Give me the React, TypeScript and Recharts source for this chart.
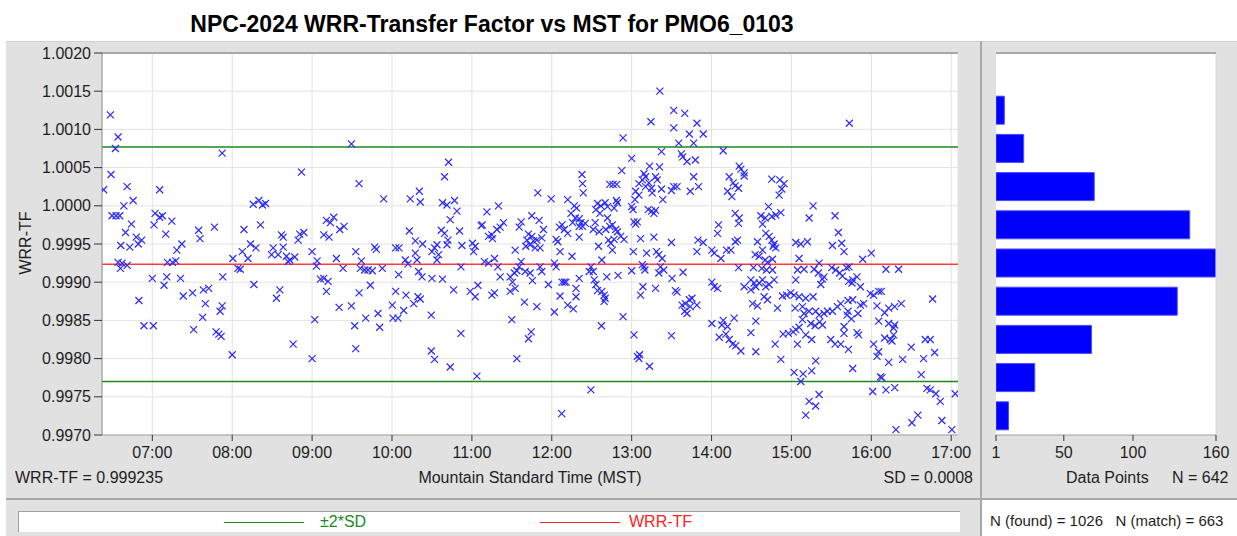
import {
  ScatterChart,
  Scatter,
  XAxis,
  YAxis,
  CartesianGrid,
  ReferenceLine,
  BarChart,
  Bar,
} from "recharts";

const FONT = "'Liberation Sans', Arial, sans-serif";
const TITLE = "NPC-2024 WRR-Transfer Factor vs MST for PMO6_0103";

// summary lines
const MEAN_TF = 0.999235;
const UPPER_2SD = 1.000769;
const LOWER_2SD = 0.997701;

const HOUR_TICKS = [7, 8, 9, 10, 11, 12, 13, 14, 15, 16, 17];
const TF_TICKS = [0.997, 0.9975, 0.998, 0.9985, 0.999, 0.9995, 1.0, 1.0005, 1.001, 1.0015, 1.002];

// histogram (bins of 0.0005, top bin empty)
const HIST_BINS = ["1.00175", "1.00125", "1.00075", "1.00025", "0.99975", "0.99925", "0.99875", "0.99825", "0.99775", "0.99725"];
const HIST_COUNTS = [null, 7, 21, 72, 141, 160, 132, 70, 29, 10];
const HIST_TICKS = [1, 50, 100, 160];

// [decimal hour MST, WRR-TF]
const early: number[][] = [
  [6.475,1.00119],[6.571,1.0009],[6.538,1.00075],[7.874,1.00069],[6.483,1.00041],[6.391,1.00021],[6.685,1.00025],[7.092,1.00021],[6.76,1.00007],[6.643,1.0],[6.496,0.99987],[6.546,0.99987],[6.592,0.99987],[7.034,0.9999],[7.092,0.99985],[7.021,0.99975],[7.126,0.99987],[7.244,0.9998],[6.739,0.99976],[7.777,0.99972],[6.664,0.99965],[7.58,0.99968],[7.597,0.99957],[8.147,0.99969],[7.168,0.99963],[6.798,0.99959],[6.866,0.99955],[6.824,0.9995],[6.605,0.99948],[6.718,0.99946],[7.37,0.9995],[7.307,0.99942],[8.126,0.9994],[8.197,0.99931],[6.571,0.99926],[6.622,0.99925],[6.685,0.99922],[6.601,0.99918],[7.189,0.99926],[7.252,0.99926],[7.294,0.99928],[8.008,0.99931],[8.071,0.99918],[8.101,0.99917],[7.0,0.99905],[7.181,0.99907],[7.353,0.99905],[7.882,0.99907],[7.147,0.99896],[7.706,0.99892],[7.639,0.9989],[7.504,0.99886],[7.387,0.99882],[6.832,0.99876],[7.664,0.99872],[7.874,0.99869],[7.849,0.99862],[7.63,0.99854],[6.895,0.99843],[7.013,0.99843],[7.517,0.99838],[7.798,0.99835],[7.832,0.99832],[7.861,0.99829],[8.0,0.99805],
];

const morning: number[][] = [
  [9.492,1.00081],[8.867,1.00044],[9.588,1.00029],[9.896,1.00009],[8.263,1.00002],[8.333,1.00007],[8.379,1.00001],[8.417,1.00003],[8.354,0.99975],[9.179,0.99981],[9.271,0.99985],[9.229,0.99978],[9.346,0.99969],[9.4,0.99973],[9.146,0.99962],[9.213,0.99959],[8.617,0.99962],[8.638,0.99959],[8.846,0.99963],[8.896,0.99965],[8.825,0.99955],[8.229,0.9995],[8.296,0.99945],[8.513,0.99945],[8.492,0.99936],[8.575,0.99936],[8.638,0.99946],[8.679,0.99934],[8.721,0.99929],[8.7,0.99927],[8.783,0.99933],[9.0,0.9994],[9.063,0.99928],[9.054,0.99921],[9.304,0.99931],[9.388,0.99918],[9.546,0.9994],[9.617,0.99928],[9.604,0.99918],[9.658,0.99916],[9.7,0.99916],[9.754,0.99915],[9.783,0.99946],[9.804,0.99943],[9.879,0.99918],[10.046,0.99945],[10.088,0.99945],[9.104,0.99904],[9.146,0.99905],[9.2,0.99901],[8.271,0.99897],[8.596,0.9989],[8.554,0.99879],[9.179,0.99888],[9.588,0.99886],[9.729,0.99896],[10.046,0.99888],[10.004,0.9987],[10.013,0.99853],[10.075,0.99853],[9.338,0.99867],[9.492,0.99869],[9.671,0.99853],[9.825,0.99859],[9.033,0.99851],[9.533,0.99843],[9.846,0.99841],[8.763,0.99819],[9.546,0.99813],[9.0,0.998],
];

const lateMorning: number[][] = [
  [10.708,1.00057],[10.658,1.00038],[10.342,1.00019],[10.229,1.00009],[10.354,1.00005],[11.825,1.00017],[10.633,1.00004],[10.688,1.00001],[10.783,1.00007],[10.813,0.99993],[10.729,0.99982],[11.333,1.0],[11.188,0.99992],[11.75,0.99987],[11.842,0.99981],[11.617,0.99979],[11.592,0.99972],[11.896,0.99969],[11.117,0.99974],[11.13,0.99975],[11.396,0.99978],[11.354,0.99972],[11.313,0.99969],[10.217,0.99967],[10.617,0.99968],[10.658,0.99964],[10.846,0.99967],[11.208,0.9996],[11.258,0.99957],[11.25,0.99962],[11.708,0.99963],[11.75,0.9996],[11.688,0.99955],[11.771,0.99954],[11.813,0.99955],[11.875,0.99958],[11.675,0.99947],[11.729,0.99949],[11.792,0.99945],[11.854,0.99945],[10.292,0.99954],[10.383,0.9995],[10.7,0.99955],[10.688,0.99949],[10.563,0.99949],[10.533,0.99945],[10.5,0.9994],[10.583,0.99936],[10.563,0.99929],[10.875,0.99948],[11.008,0.99951],[11.042,0.99947],[11.021,0.9994],[11.542,0.99942],[10.292,0.99938],[10.313,0.99929],[10.167,0.99929],[10.2,0.99924],[11.158,0.99927],[11.208,0.99925],[11.283,0.99931],[11.325,0.9992],[11.617,0.99927],[11.592,0.9992],[11.563,0.99915],[11.667,0.99914],[11.533,0.99912],[11.729,0.99912],[11.758,0.99902],[11.854,0.9992],[11.875,0.99914],[11.958,0.99897],[10.083,0.9991],[10.333,0.99914],[10.375,0.99907],[10.5,0.99905],[10.863,0.9992],[10.633,0.99904],[11.354,0.99907],[11.479,0.99907],[11.508,0.999],[11.479,0.99888],[11.542,0.99892],[10.771,0.9989],[11.075,0.99896],[10.979,0.99888],[11.042,0.99881],[11.25,0.99883],[11.283,0.99886],[10.175,0.99883],[10.271,0.99872],[10.325,0.99881],[10.354,0.99878],[11.658,0.99874],[11.813,0.99868],[10.146,0.99863],[10.492,0.99857],[11.5,0.99851],[10.863,0.99833],[11.742,0.99835],[11.708,0.99826],[10.492,0.9981],[10.533,0.99799],[11.563,0.998],[10.729,0.99789],[11.063,0.99777],
];

const midday: number[][] = [
  [13.353,1.0015],[13.527,1.00125],[13.664,1.00121],[13.241,1.0011],[13.527,1.00102],[13.722,1.00094],[13.817,1.00108],[12.892,1.00089],[13.589,1.00082],[13.776,1.00082],[13.373,1.00071],[13.0,1.00062],[13.622,1.00068],[13.639,1.00064],[13.693,1.00058],[13.797,1.0006],[12.876,1.00046],[13.224,1.00052],[13.154,1.00042],[13.349,1.00051],[13.174,1.00038],[13.299,1.00038],[12.378,1.00041],[12.386,1.00029],[12.394,1.00017],[13.091,1.00029],[13.133,1.00034],[13.216,1.0003],[13.249,1.00023],[13.32,1.00034],[13.174,1.00025],[13.05,1.00019],[13.373,1.00022],[13.257,1.00017],[12.726,1.00028],[12.768,1.00028],[12.813,1.00028],[13.776,1.00038],[13.527,1.00025],[13.498,1.0002],[13.568,1.00025],[13.734,1.00019],[13.838,1.00025],[11.992,1.00009],[12.199,1.00008],[12.809,1.00007],[12.822,1.00004],[12.282,1.0],[12.311,0.99997],[12.241,0.9999],[12.295,0.99984],[12.261,0.99978],[12.344,0.99983],[12.573,1.00003],[12.614,1.0],[12.668,1.00004],[12.697,0.99999],[12.552,0.99995],[12.602,0.9999],[12.78,0.99997],[13.0,0.99999],[13.017,0.99995],[13.041,1.00008],[13.091,1.00014],[13.207,0.99995],[13.249,0.99993],[13.278,0.9999],[13.299,0.99994],[13.39,1.00008],[13.029,0.99979],[13.071,0.99979],[13.05,0.99976],[12.129,0.99975],[12.095,0.99972],[12.199,0.99964],[12.158,0.99969],[12.344,0.99973],[12.419,0.99977],[12.365,0.99978],[12.386,0.99973],[12.544,0.99978],[12.519,0.99969],[12.593,0.99966],[12.697,0.99984],[12.726,0.99973],[12.676,0.99969],[12.759,0.99975],[12.801,0.99969],[12.822,0.99966],[12.863,0.9996],[12.905,0.99956],[12.71,0.99955],[12.739,0.99951],[12.78,0.99956],[12.759,0.99942],[12.054,0.99956],[12.075,0.99953],[12.344,0.99959],[12.585,0.99947],[13.112,0.99957],[13.278,0.99959],[13.498,0.99952],[13.83,0.99955],[13.817,0.9994],[12.104,0.9994],[12.253,0.99934],[12.627,0.99929],[13.021,0.9994],[13.187,0.99938],[13.311,0.9994],[13.34,0.99936],[13.382,0.99931],[12.033,0.99925],[12.054,0.9992],[12.49,0.9992],[12.469,0.99914],[12.519,0.99914],[12.531,0.99903],[12.552,0.99897],[12.344,0.99905],[12.689,0.99907],[12.83,0.99909],[13.0,0.99915],[13.133,0.99923],[13.166,0.99916],[13.154,0.9992],[13.361,0.9992],[13.34,0.99912],[13.402,0.99916],[13.506,0.99905],[13.643,0.99913],[12.129,0.999],[12.158,0.999],[12.178,0.999],[12.303,0.99892],[12.303,0.99881],[12.627,0.99888],[12.656,0.99883],[12.668,0.99879],[12.656,0.99875],[12.573,0.99889],[13.141,0.99894],[13.112,0.99883],[13.299,0.99892],[13.548,0.99889],[13.568,0.99887],[13.631,0.9987],[13.664,0.99862],[13.693,0.99859],[13.722,0.99877],[13.755,0.99879],[13.734,0.99868],[13.672,0.99872],[12.104,0.99882],[12.199,0.9987],[12.27,0.99865],[12.033,0.99861],[12.892,0.99855],[12.622,0.99843],[13.029,0.99831],[13.498,0.9983],[13.071,0.99803],[13.1,0.99805],[13.091,0.998],[13.224,0.9979],[12.49,0.99759],[12.124,0.99728],
];

const afternoon: number[][] = [
  [13.896,1.00094],[14.146,1.00072],[14.346,1.00052],[14.367,1.00048],[14.408,1.00043],[14.408,1.00039],[14.221,1.00038],[14.271,1.0003],[14.2,1.00019],[14.254,1.00012],[14.338,1.00023],[14.296,1.00026],[14.754,1.00035],[14.854,1.00034],[14.908,1.00029],[14.879,1.00022],[14.846,1.00014],[15.271,1.0],[15.221,0.99984],[15.546,0.99987],[15.588,0.99965],[14.296,0.9999],[14.346,0.99984],[14.338,0.99977],[14.713,0.99999],[14.617,0.99987],[14.671,0.99984],[14.754,0.99986],[14.804,0.99988],[14.867,0.99991],[14.638,0.99976],[14.088,0.99975],[14.075,0.99964],[13.896,0.99952],[14.325,0.99955],[14.296,0.99953],[14.575,0.99953],[14.679,0.99964],[14.721,0.9996],[14.754,0.99955],[14.783,0.9995],[14.804,0.99945],[14.771,0.99947],[15.054,0.99952],[15.117,0.9995],[15.2,0.99953],[15.513,0.99948],[15.629,0.99951],[15.658,0.9994],[14.004,0.99942],[14.033,0.99938],[14.117,0.99931],[14.188,0.99942],[14.242,0.99942],[14.546,0.99936],[14.596,0.99934],[14.638,0.99942],[14.671,0.99929],[14.7,0.99926],[14.763,0.9993],[15.096,0.99931],[14.338,0.99919],[14.525,0.99919],[14.629,0.99918],[14.688,0.99916],[14.763,0.99916],[15.075,0.99916],[15.158,0.99917],[15.054,0.99903],[15.346,0.99925],[15.283,0.99917],[15.338,0.99912],[15.388,0.99904],[15.367,0.99897],[15.408,0.99907],[15.504,0.99919],[15.554,0.99916],[15.604,0.99912],[15.638,0.99908],[15.688,0.99919],[15.721,0.9992],[14.004,0.999],[14.033,0.99894],[14.075,0.99892],[14.408,0.99894],[14.492,0.99903],[14.533,0.99899],[14.554,0.99894],[14.596,0.99899],[14.638,0.99903],[14.679,0.99894],[14.721,0.99897],[14.783,0.99903],[13.817,0.9987],[14.492,0.9989],[14.513,0.99872],[14.575,0.99869],[14.658,0.99881],[14.7,0.99877],[14.888,0.99882],[14.938,0.99883],[14.992,0.99886],[15.033,0.99883],[15.096,0.99881],[15.179,0.99879],[15.271,0.99881],[15.138,0.99868],[14.825,0.99866],[15.046,0.99866],[15.158,0.99859],[15.221,0.99862],[15.304,0.99862],[15.346,0.99857],[15.408,0.99859],[15.45,0.99862],[15.513,0.99862],[15.575,0.99868],[15.617,0.99872],[14.554,0.99849],[14.004,0.99846],[14.146,0.9985],[14.129,0.99844],[14.2,0.99842],[14.283,0.99853],[15.138,0.99851],[15.242,0.99846],[15.296,0.99843],[15.388,0.99844],[15.354,0.99848],[15.658,0.99842],[15.658,0.99833],[14.492,0.99834],[14.896,0.99832],[14.963,0.99833],[15.021,0.99835],[15.054,0.99838],[15.096,0.99841],[14.179,0.99832],[14.096,0.99828],[14.221,0.99825],[14.263,0.99819],[14.304,0.99817],[14.367,0.9981],[15.179,0.99831],[15.254,0.99825],[15.492,0.99825],[15.546,0.99819],[15.617,0.99819],[15.713,0.99812],[15.075,0.99819],[14.796,0.99819],[14.554,0.99809],[14.867,0.99799],[15.304,0.99797],[15.033,0.99782],[15.146,0.9978],[15.117,0.9977],[15.254,0.99784],[15.346,0.99753],[15.221,0.99744],[15.304,0.99738],[15.179,0.99726],
];

const late: number[][] = [
  [15.725,1.00108],[15.892,0.9993],[16.0,0.99938],[16.183,0.99917],[16.342,0.99917],[15.717,0.99901],[15.767,0.99903],[15.821,0.99907],[15.863,0.99894],[15.758,0.99899],[15.988,0.99885],[16.029,0.99883],[16.092,0.99888],[16.125,0.99888],[16.071,0.99869],[16.167,0.9986],[16.092,0.99849],[16.217,0.99866],[16.292,0.99868],[16.375,0.99872],[16.767,0.99878],[15.708,0.99876],[15.767,0.99877],[15.863,0.9987],[15.904,0.99872],[15.708,0.99862],[15.696,0.99857],[15.75,0.99852],[15.833,0.99859],[16.217,0.99846],[16.292,0.99844],[16.279,0.9984],[15.821,0.99834],[15.842,0.99831],[16.167,0.99827],[16.238,0.99825],[16.279,0.99831],[16.258,0.99823],[16.029,0.99819],[16.092,0.99809],[16.071,0.99803],[16.5,0.99815],[16.675,0.99825],[16.738,0.99825],[16.654,0.998],[16.792,0.99808],[16.217,0.99795],[16.392,0.99799],[15.767,0.99787],[16.133,0.99775],[16.113,0.99776],[16.625,0.99779],[16.017,0.99757],[16.183,0.99759],[16.292,0.99762],[16.696,0.99761],[16.738,0.99759],[16.808,0.99754],[16.863,0.99744],[17.05,0.99754],[16.583,0.99726],[16.508,0.99716],[16.308,0.99707],[16.883,0.99719],[17.008,0.99707],
];

const points = [...early, ...morning, ...lateMorning, ...midday, ...afternoon, ...late].map(
  ([t, tf]) => ({ t, tf })
);
const histData = HIST_BINS.map((bin, i) => ({ bin, n: HIST_COUNTS[i] }));

const hhmm = (h: number) => `${String(h).padStart(2, "0")}:00`;

const Cross = (props: any) => {
  const { cx, cy } = props;
  if (cx == null || cy == null) return null;
  const r = 3.5;
  return (
    <path
      d={`M${cx - r},${cy - r}L${cx + r},${cy + r}M${cx - r},${cy + r}L${cx + r},${cy - r}`}
      stroke="#2a2aff"
      strokeWidth={1.2}
      fill="none"
    />
  );
};

const tickStyle = { fill: "#1e1e1e", fontSize: 16, fontFamily: FONT };

export default function App() {
  return (
    <div
      style={{
        position: "absolute",
        left: 0,
        top: 0,
        width: 1237,
        height: 536,
        background: "#fff",
        overflow: "hidden",
        fontFamily: FONT,
        color: "#1e1e1e",
      }}
    >
      <div
        style={{
          position: "absolute",
          left: 0,
          top: 10,
          width: 984,
          textAlign: "center",
          fontSize: 23,
          fontWeight: "bold",
          color: "#000",
          lineHeight: "28px",
        }}
      >
        {TITLE}
      </div>

      {/* panels */}
      <div style={{ position: "absolute", left: 6, top: 41, width: 1231, height: 457, background: "#e1e1e1", borderTop: "1px solid #d0d0d0" }} />
      <div style={{ position: "absolute", left: 6, top: 498, width: 975, height: 38, background: "#e1e1e1", borderTop: "2px solid #a8a8a8" }} />
      <div style={{ position: "absolute", left: 981, top: 498, width: 256, height: 38, background: "#fff", borderTop: "2px solid #a8a8a8" }} />
      <div style={{ position: "absolute", left: 980, top: 41, width: 2, height: 495, background: "#a8a8a8" }} />

      <div style={{ position: "absolute", left: 0, top: 0 }}>
        <ScatterChart width={980} height={500} margin={{ top: 53, right: 22, bottom: 35, left: 0 }}>
          <CartesianGrid stroke="#e2e2e2" fill="#fff" />
          <XAxis
            type="number"
            dataKey="t"
            domain={[6.37, 17.085]}
            ticks={HOUR_TICKS}
            interval={0}
            allowDataOverflow
            tickFormatter={hhmm}
            tick={tickStyle}
            tickSize={6}
            tickMargin={6}
            tickLine={{ stroke: "#333" }}
            axisLine={{ stroke: "#a0a0a0" }}
            height={30}
          />
          <YAxis
            type="number"
            dataKey="tf"
            domain={[0.997, 1.002]}
            ticks={TF_TICKS}
            interval={0}
            allowDataOverflow
            tickFormatter={(v: number) => v.toFixed(4)}
            tick={tickStyle}
            tickSize={8}
            tickMargin={3}
            tickLine={{ stroke: "#333" }}
            axisLine={{ stroke: "#8c8c8c" }}
            width={102}
          />
          <ReferenceLine y={1.002} stroke="#a8a8a8" strokeWidth={2} />
          <ReferenceLine y={UPPER_2SD} stroke="#1b8a1b" strokeWidth={1.5} />
          <ReferenceLine y={LOWER_2SD} stroke="#1b8a1b" strokeWidth={1.5} />
          <ReferenceLine y={MEAN_TF} stroke="#ff3b3b" strokeWidth={1.5} />
          <Scatter data={points} shape={Cross} isAnimationActive={false} />
        </ScatterChart>
      </div>

      <div style={{ position: "absolute", left: 981, top: 0 }}>
        <BarChart
          layout="vertical"
          width={256}
          height={500}
          data={histData}
          margin={{ top: 53, right: 21, bottom: 35, left: 15 }}
        >
          <CartesianGrid fill="#fff" horizontal={false} vertical={false} />
          <XAxis
            type="number"
            domain={[1, 160]}
            ticks={HIST_TICKS}
            interval={0}
            allowDataOverflow
            tick={tickStyle}
            tickSize={6}
            tickMargin={6}
            tickLine={{ stroke: "#333" }}
            axisLine={{ stroke: "#a0a0a0" }}
            height={30}
          />
          <YAxis
            type="category"
            dataKey="bin"
            width={0}
            tick={false}
            tickLine={false}
            axisLine={{ stroke: "#8c8c8c" }}
          />
          <ReferenceLine x={160} stroke="#d8d8d8" strokeWidth={1} />
          <Bar dataKey="n" fill="#0000ff" stroke="#4a4aff" strokeWidth={1} barSize={28} isAnimationActive={false} />
        </BarChart>
      </div>
      <div style={{ position: "absolute", left: 996, top: 52, width: 220, height: 2, background: "#a8a8a8" }} />

      {/* y label */}
      <div
        style={{
          position: "absolute",
          left: 26,
          top: 243,
          fontSize: 16,
          transform: "translate(-50%, -50%) rotate(-90deg)",
          whiteSpace: "nowrap",
        }}
      >
        WRR-TF
      </div>

      {/* footer texts */}
      <div style={{ position: "absolute", left: 15, top: 469, fontSize: 16, lineHeight: "18px" }}>WRR-TF = 0.999235</div>
      <div style={{ position: "absolute", left: 102, width: 856, top: 469, fontSize: 16, lineHeight: "18px", textAlign: "center" }}>
        Mountain Standard Time (MST)
      </div>
      <div style={{ position: "absolute", right: 1237 - 973, top: 469, fontSize: 16, lineHeight: "18px" }}>SD = 0.0008</div>
      <div style={{ position: "absolute", left: 1066, top: 469, fontSize: 16, lineHeight: "18px" }}>Data Points</div>
      <div style={{ position: "absolute", left: 1172, top: 469, fontSize: 16, lineHeight: "18px" }}>N = 642</div>

      {/* legend */}
      <div
        style={{
          position: "absolute",
          left: 18,
          top: 511,
          width: 941,
          height: 20,
          background: "#fff",
          borderTop: "1px solid #a0a0a0",
          borderLeft: "1px solid #a0a0a0",
        }}
      >
        <div style={{ position: "absolute", left: 205, top: 10, width: 80, height: 1, background: "#1b8a1b" }} />
        <div style={{ position: "absolute", left: 301, top: 1, fontSize: 16, lineHeight: "18px", color: "#1b8a1b" }}>±2*SD</div>
        <div style={{ position: "absolute", left: 521, top: 10, width: 80, height: 1, background: "#ff2020" }} />
        <div style={{ position: "absolute", left: 610, top: 1, fontSize: 16, lineHeight: "18px", color: "#ff2020" }}>WRR-TF</div>
      </div>
      <div style={{ position: "absolute", left: 990, top: 512, fontSize: 15, lineHeight: "18px", whiteSpace: "pre" }}>
        {"N (found) = 1026   N (match) = 663"}
      </div>
    </div>
  );
}
